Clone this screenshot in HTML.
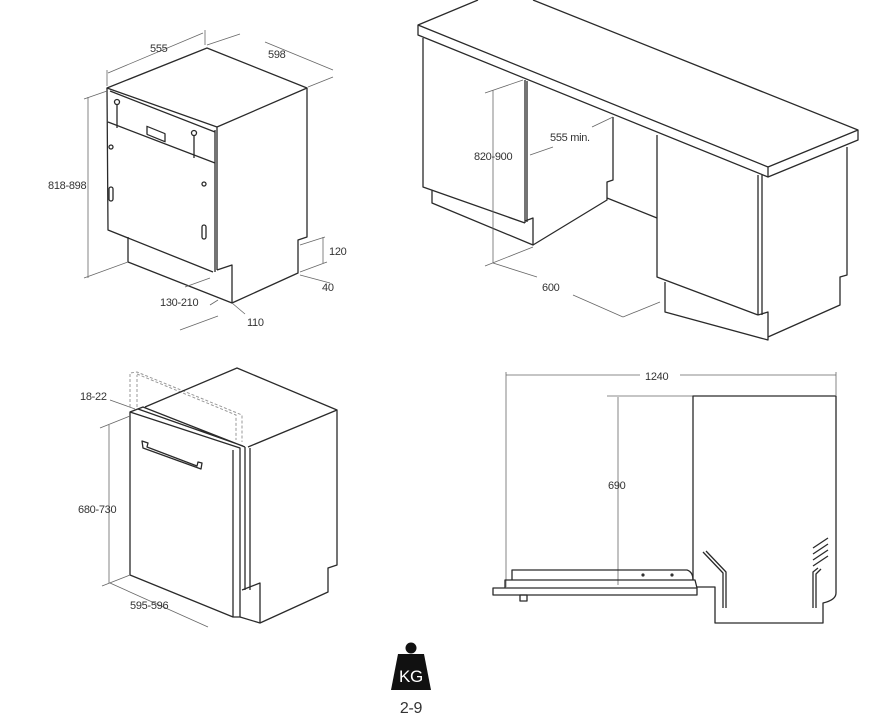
<!DOCTYPE html>
<html><head><meta charset="utf-8"><style>
html,body{margin:0;padding:0;background:#fff}
svg{display:block}
text{font-family:"Liberation Sans",sans-serif;fill:#333;font-size:11px;letter-spacing:-0.3px}
.m{fill:none;stroke:#2a2a2a;stroke-width:1.3;stroke-linejoin:round}
.d{fill:none;stroke:#666;stroke-width:0.8}
.ds{fill:none;stroke:#999;stroke-width:1;stroke-dasharray:3 2}
</style></head><body>
<svg width="888" height="725" viewBox="0 0 888 725" xmlns="http://www.w3.org/2000/svg">
<!-- Drawing 1 -->
<g>
<polygon class="m" points="107,88 207,48 307,88 217,127"/>
<path class="m" d="M107,88 L108,230 L213,272 M215,130 L215,272 M217,127 L217,270 M108,122 L215,163 M110,91 L215,132"/>
<path class="m" d="M307,88 L307,237 L298,240 L298,273 L232,303 M128,237 L128,262 L232,303 L232,265 L217,270"/>
<circle class="m" cx="117" cy="102" r="2.5"/><path class="m" d="M117,105 L117,128"/>
<circle class="m" cx="194" cy="133" r="2.5"/><path class="m" d="M194,136 L194,158"/>
<rect class="m" x="147" y="126" width="18" height="8" transform="skewY(22) translate(0,-59)"/>
<circle class="m" cx="111" cy="147" r="2"/><circle class="m" cx="204" cy="184" r="2"/>
<rect class="m" x="109" y="187" width="4" height="14" rx="2"/><rect class="m" x="202" y="225" width="4" height="14" rx="2"/>
<path class="d" d="M108,73 L203,33 M107,86 L107,70 M205,45 L205,30 M207,45 L240,34 M265,42 L333,70 M333,77 L308,87 M88,97 L88,278 M84,99 L107,91 M84,278 L128,262 M323,237 L323,263 M300,245 L325,237 M300,272 L327,262 M300,275 L330,283 M185,287 L210,278 M232,303 L245,314 M218,316 L180,330 M210,305 L218,300"/>
<text x="150" y="52">555</text><text x="268" y="58">598</text>
<text x="48" y="189">818-898</text><text x="329" y="255">120</text>
<text x="322" y="291">40</text><text x="160" y="306">130-210</text><text x="247" y="326">110</text>
</g>
<!-- Drawing 2 -->
<g>
<path class="m" d="M418,25 L478,0 M858,130 L533,0 M418,25 L768,167 L858,130 L858,140 L768,177 L418,35 Z M768,167 L768,177"/>
<path class="m" d="M423,38 L423,187 L525,223 M525,80 L525,223 M527,81 L527,222 M432,190 L432,203 L533,245 L533,218 L525,221"/>
<path class="m" d="M613,117 L613,180 L607,182 L607,200 L533,245 M607,198 L657,218"/>
<path class="m" d="M657,135 L657,277 L758,315 M758,175 L758,315 M762,175 L762,315 M847,147 L847,275 L840,277 L840,305 L768,337 M665,282 L665,312 L768,340 L768,312 L758,315"/>
<path class="d" d="M493,90 L493,263 M485,93 L523,80 M485,266 L533,247 M530,155 L553,147 M592,127 L613,117 M493,263 L537,277 M573,295 L623,317 M623,317 L660,302"/>
<text x="474" y="160">820-900</text><text x="550" y="141">555 min.</text><text x="542" y="291">600</text>
</g>
<!-- Drawing 3 -->
<g>
<path class="ds" d="M130,407 L130,373 L137,372 L242,415 L242,442 M137,407 L137,375 M137,374 L236,415 L236,440"/>
<polygon class="m" points="130,412 240,448 240,617 233,617 130,575"/>
<path class="m" d="M233,450 L233,617 M130,412 L143,407 L245,447 M145,407 L237,368 L337,410 L248,447 M245,447 L245,590 M250,448 L250,590 M337,410 L337,565 L328,568 L328,592 L260,623 L260,583 L242,590 M240,617 L260,623 M138,409 L243,446"/>
<path class="m" d="M142,441 L148,443 L147,447 L197,466 L198,462 L202,463 L201,469 L143,448 Z"/>
<path class="d" d="M109,425 L109,583 M100,428 L130,416 M102,586 L130,575 M110,583 L208,627 M110,400 L135,409"/>
<text x="80" y="400">18-22</text><text x="78" y="513">680-730</text><text x="130" y="609">595-596</text>
</g>
<!-- Drawing 4 -->
<g>
<path class="d" d="M506,375 L640,375 M680,375 L836,375 M506,372 L506,587 M836,372 L836,395 M607,396 L693,396 M618,397 L618,585"/>
<text x="645" y="380">1240</text><text x="608" y="489">690</text>
<path class="m" d="M693,580 L693,396 L836,396 L836,593 Q836,600 823,603 L823,623 L715,623 L715,587 L697,587"/>
<rect class="m" x="493" y="588" width="204" height="7"/>
<path class="m" d="M505,588 L505,580 L695,580 L697,588 M512,580 L512,570 L687,570 Q693,572 693,580"/>
<circle cx="643" cy="575" r="1.6" fill="#333"/><circle cx="672" cy="575" r="1.6" fill="#333"/>
<rect class="m" x="520" y="595" width="7" height="6"/>
<path class="m" d="M703,552 L723,573 L723,608 M706,551 L726,572 L726,608"/>
<path class="m" d="M828,538 L813,548 M828,544 L813,554 M828,550 L813,560 M828,556 L813,566 M818,568 L813,572 L813,608 M821,569 L816,574 L816,608"/>
</g>
<!-- KG -->
<circle cx="411" cy="648" r="5.5" fill="#111"/>
<polygon points="398,654 424,654 431,690 391,690" fill="#111"/>
<text x="411" y="682" text-anchor="middle" style="fill:#fff;font-size:17px">KG</text>
<text x="411" y="713" text-anchor="middle" style="font-size:16px">2-9</text>
</svg>
</body></html>
